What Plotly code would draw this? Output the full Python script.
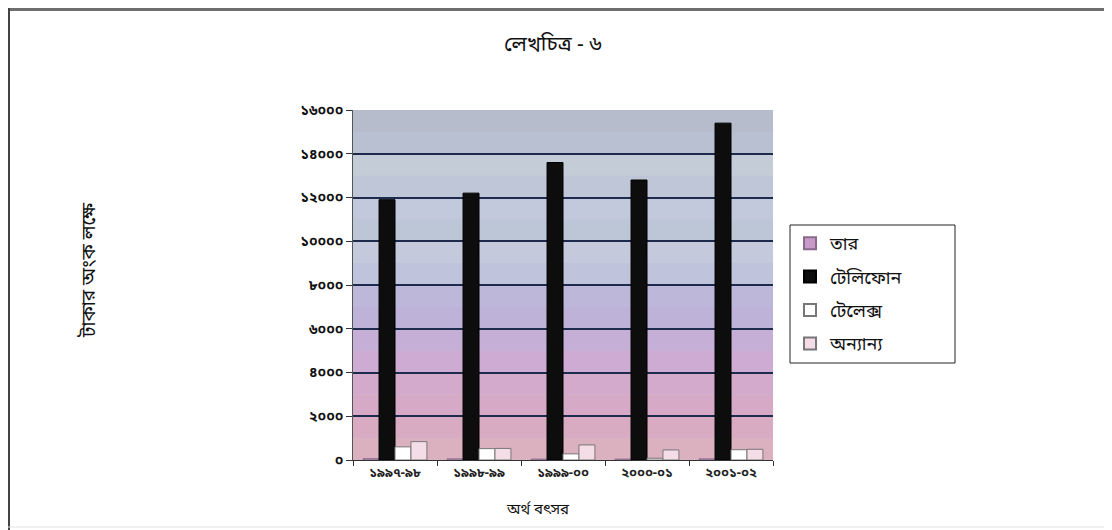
import plotly.graph_objects as go

categories = ["১৯৯৭-৯৮", "১৯৯৮-৯৯", "১৯৯৯-০০", "২০০০-০১", "২০০১-০২"]
series_names = ["তার", "টেলিফোন", "টেলেক্স", "অন্যান্য"]
taar = [60, 50, 40, 40, 50]
telephone = [11900, 12200, 13600, 12800, 15400]
telex = [600, 520, 280, 80, 470]
others = [840, 530, 690, 460, 490]
tick_vals = [0, 2000, 4000, 6000, 8000, 10000, 12000, 14000, 16000]
tick_text = ["০", "২০০০", "৪০০০", "৬০০০", "৮০০০", "১০০০০", "১২০০০", "১৪০০০", "১৬০০০"]

colors = ["#c79ac8", "#0d0d0d", "#ffffff", "#f4dde6"]
lines = ["#8a6a8a", "#000000", "#777777", "#777777"]
values = [taar, telephone, telex, others]

fig = go.Figure()
for name, vals, c, lc in zip(series_names, values, colors, lines):
    fig.add_trace(go.Bar(x=categories, y=vals, name=name, legendgroup=name,
                         marker=dict(color=c, line=dict(color=lc, width=1))))

# textured background bands (style only)
band_colors = ["#b6bccb", "#b9c0d2", "#c4ccd8", "#bfc6d8", "#c2c9dd", "#bcc6d6",
               "#c4cadb", "#bfc3db", "#bdb7d9", "#bfb2d8", "#c6afd6", "#cdabd2",
               "#d3aacb", "#d6aac6", "#d8abc2", "#dbb0bf"]
shapes = []
n = len(band_colors)
for i, bc in enumerate(band_colors):
    shapes.append(dict(type="rect", xref="x domain", yref="y domain",
                       x0=0, x1=1, y0=1 - (i + 1) / n, y1=1 - i / n,
                       fillcolor=bc, line=dict(width=0), layer="below"))

# page offset of the figure (browser body margin)
OFF = 8
# plot area in page pixels
L, T, W, H = 353.0, 110.0, 420.0, 350.0
def px(x):
    return (x - L) / W
def py(y):
    return (T + H - y) / H

shapes.append(dict(type="line", xref="paper", yref="paper", x0=px(8), x1=px(1112),
                   y0=py(9.5), y1=py(9.5), line=dict(color="#6e6e6e", width=3)))
shapes.append(dict(type="line", xref="paper", yref="paper", x0=px(9), x1=px(9),
                   y0=py(8), y1=py(540), line=dict(color="#444444", width=2)))
shapes.append(dict(type="line", xref="paper", yref="paper", x0=px(1107), x1=px(1107),
                   y0=py(8), y1=py(528), line=dict(color="#dddddd", width=1)))
shapes.append(dict(type="line", xref="paper", yref="paper", x0=px(8), x1=px(1108),
                   y0=py(527), y1=py(527), line=dict(color="#e2e2e2", width=1)))
# legend frame
shapes.append(dict(type="rect", xref="paper", yref="paper", x0=px(790), x1=px(955),
                   y0=py(363), y1=py(225), fillcolor="white",
                   line=dict(color="#222222", width=1), layer="above"))

annotations = [
    dict(text="টাকার অংক লক্ষে", xref="paper", yref="paper", x=px(90), y=py(270),
         textangle=-90, showarrow=False, font=dict(size=19, color="#111111"),
         xanchor="center", yanchor="middle"),
    dict(text="অর্থ বৎসর", xref="paper", yref="paper", x=px(538), y=py(510),
         showarrow=False, font=dict(size=15, color="#111111"),
         xanchor="center", yanchor="middle"),
    dict(text="লেখচিত্র - ৬", xref="paper", yref="paper", x=px(553), y=py(46),
         showarrow=False, font=dict(size=21, color="#111111"),
         xanchor="center", yanchor="middle"),
]

fig.update_layout(
    width=1112, height=530,
    margin=dict(l=L - OFF, r=1112 - (L - OFF + W), t=T - OFF, b=530 - (T - OFF + H),
                autoexpand=False),
    paper_bgcolor="white",
    plot_bgcolor="#c4c4d8",
    barmode="group", bargap=0.24, bargroupgap=0,
    font=dict(family="Noto Sans Bengali, Noto Sans, sans-serif", color="#111111"),
    xaxis=dict(automargin=False,
               tickfont=dict(size=13, color="#222", weight="bold"), ticks="outside",
               ticklen=5, tickcolor="#333",
               tickson="boundaries", showline=True, linecolor="#333", linewidth=1,
               showgrid=False),
    yaxis=dict(automargin=False,
               range=[0, 16000], tickvals=tick_vals, ticktext=tick_text,
               tickfont=dict(size=14, color="#111", weight="bold"), ticks="outside",
               ticklen=6, tickcolor="#333",
               showline=True, linecolor="#555", linewidth=1,
               showgrid=True, gridcolor="#1d2b4c", gridwidth=1.5, zeroline=False),
    legend=dict(x=px(790), y=py(225), xanchor="left", yanchor="top",
                borderwidth=0, bgcolor="rgba(0,0,0,0)",
                font=dict(size=18), itemsizing="constant", tracegroupgap=7,
                itemwidth=30),
    shapes=shapes,
    annotations=annotations,
    showlegend=True,
)

fig.write_html("out.html")
